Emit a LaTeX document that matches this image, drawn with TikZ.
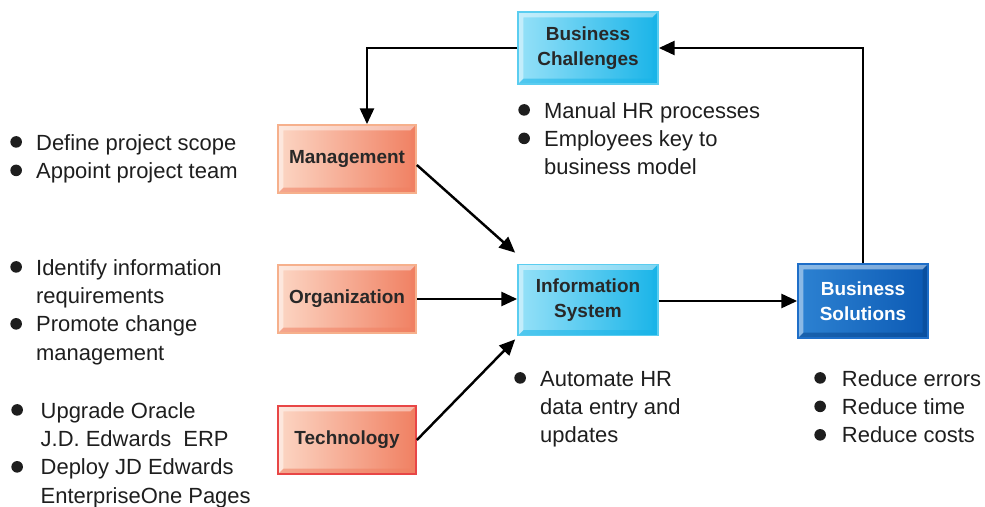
\documentclass[tikz,border=0pt]{standalone}
\usepackage{fontspec}
\setmainfont{Liberation Sans}
\usepackage{tikz}
\usetikzlibrary{arrows.meta, positioning, calc}
\definecolor{salmonlight}{RGB}{252, 214, 196}
\definecolor{salmondark}{RGB}{240, 128, 98}
\definecolor{salmonedge}{RGB}{246, 176, 140}
\definecolor{techedge}{RGB}{232, 70, 70}
\definecolor{skylight}{RGB}{150, 225, 248}
\definecolor{skydark}{RGB}{25, 180, 232}
\definecolor{skyedge}{RGB}{90, 205, 240}
\definecolor{navylight}{RGB}{45, 130, 210}
\definecolor{navydark}{RGB}{12, 90, 180}
\definecolor{navyedge}{RGB}{30, 110, 200}
\definecolor{boxtext}{RGB}{40, 40, 40}
\definecolor{notetext}{RGB}{30, 30, 30}
\newcommand{\bul}{\makebox[14.7pt][l]{\tikz[baseline=0pt, x=1pt, y=1pt]\fill[notetext] (3.3,4.6) circle[radius=3.3];}}

\begin{document}
\begin{tikzpicture}[
    x=0.02cm, y=-0.02cm,
    box/.style={rectangle, minimum width=2.8cm, minimum height=1.42cm, align=center, font=\fontsize{10.8}{14.2}\selectfont\bfseries, text=boxtext, line width=1pt},
    bevel/.style={path picture={
        \coordinate (pa) at (path picture bounding box.north west);
        \coordinate (pb) at (path picture bounding box.south east);
        \fill[white, opacity=0.45] (pa) -- (pa -| pb) -- ([shift={(-3pt,-3pt)}]pa -| pb) -- ([shift={(3pt,-3pt)}]pa) -- ([shift={(3pt,3pt)}]pa |- pb) -- (pa |- pb) -- cycle;
        \fill[#1, opacity=0.55] (pb) -- (pb |- pa) -- ([shift={(-3pt,-3pt)}]pb |- pa) -- ([shift={(-3pt,3pt)}]pb) -- ([shift={(3pt,3pt)}]pa |- pb) -- (pa |- pb) -- cycle;
    }},
    salmonbox/.style={box, left color=salmonlight, right color=salmondark, draw=salmonedge, bevel=salmondark},
    skybox/.style={box, left color=skylight, right color=skydark, draw=skyedge, bevel=skydark},
    navybox/.style={box, left color=navylight, right color=navydark, draw=navyedge, bevel=navydark!80!black, text=white},
    note/.style={anchor=base west, inner sep=0pt, font=\fontsize{12.5}{16.2}\selectfont, text=notetext},
    arrow/.style={-{Triangle[length=9pt, width=8pt]}, line width=1.4pt, black}
]
\useasboundingbox (0,0) rectangle (985,507);

% Business Challenges
\node[skybox, minimum height=1.44cm] (bc) at (588,48) {Business\\Challenges};

% Management, Organization, Technology
\node[salmonbox, minimum width=2.76cm, minimum height=1.36cm] (mgmt) at (347,159) {Management};
\node[salmonbox, minimum width=2.76cm, minimum height=1.36cm] (org) at (347,299) {Organization};
\node[salmonbox, draw=techedge, minimum width=2.76cm, minimum height=1.36cm] (tech) at (347,440) {Technology};

% Information System
\node[skybox] (is) at (588,300) {Information\\System};

% Business Solutions
\node[navybox, minimum width=2.6cm, minimum height=1.48cm] (bs) at (863,301) {Business\\Solutions};

% Arrows
\draw[arrow] (bc.west) -| ([xshift=0.4cm]mgmt.north);
\draw[arrow] (bs.north) |- (bc.east);
\draw[arrow] ([yshift=-0.12cm]mgmt.east) -- ([shift={(-0.04cm,0.22cm)}]is.north west);
\draw[arrow] (org.east) -- (is.west |- org.east);
\draw[arrow] (tech.east) -- ([shift={(-0.04cm,-0.06cm)}]is.south west);
\draw[arrow] (is.east |- bs.west) -- (bs.west);

% Bullet lists
\node[note] (mgmtnote) at (10,150) {\begin{tabular}[t]{@{}l@{}l@{}}
  \bul & Define project scope\\
  \bul & Appoint project team
\end{tabular}};
\node[note] (orgnote) at (10,275) {\begin{tabular}[t]{@{}l@{}l@{}}
  \bul & Identify information\\
       & requirements\\
  \bul & Promote change\\
       & management
\end{tabular}};
\node[note] (technote) at (11,418) {\begin{tabular}[t]{@{}l@{\hspace{2pt}}l@{}}
  \bul & Upgrade Oracle\\
       & J.D. Edwards\ \ ERP\\
  \bul & Deploy JD Edwards\\
       & EnterpriseOne Pages
\end{tabular}};
\node[note] (bcnote) at (518,118) {\begin{tabular}[t]{@{}l@{}l@{}}
  \bul & Manual HR processes\\
  \bul & Employees key to\\
       & business model
\end{tabular}};
\node[note] (isnote) at (514,386) {\begin{tabular}[t]{@{}l@{}l@{}}
  \bul & Automate HR\\
       & data entry and\\
       & updates
\end{tabular}};
\node[note] (bsnote) at (814,386) {\begin{tabular}[t]{@{}l@{\hspace{1pt}}l@{}}
  \bul & Reduce errors\\
  \bul & Reduce time\\
  \bul & Reduce costs
\end{tabular}};
\end{tikzpicture}
\end{document}
